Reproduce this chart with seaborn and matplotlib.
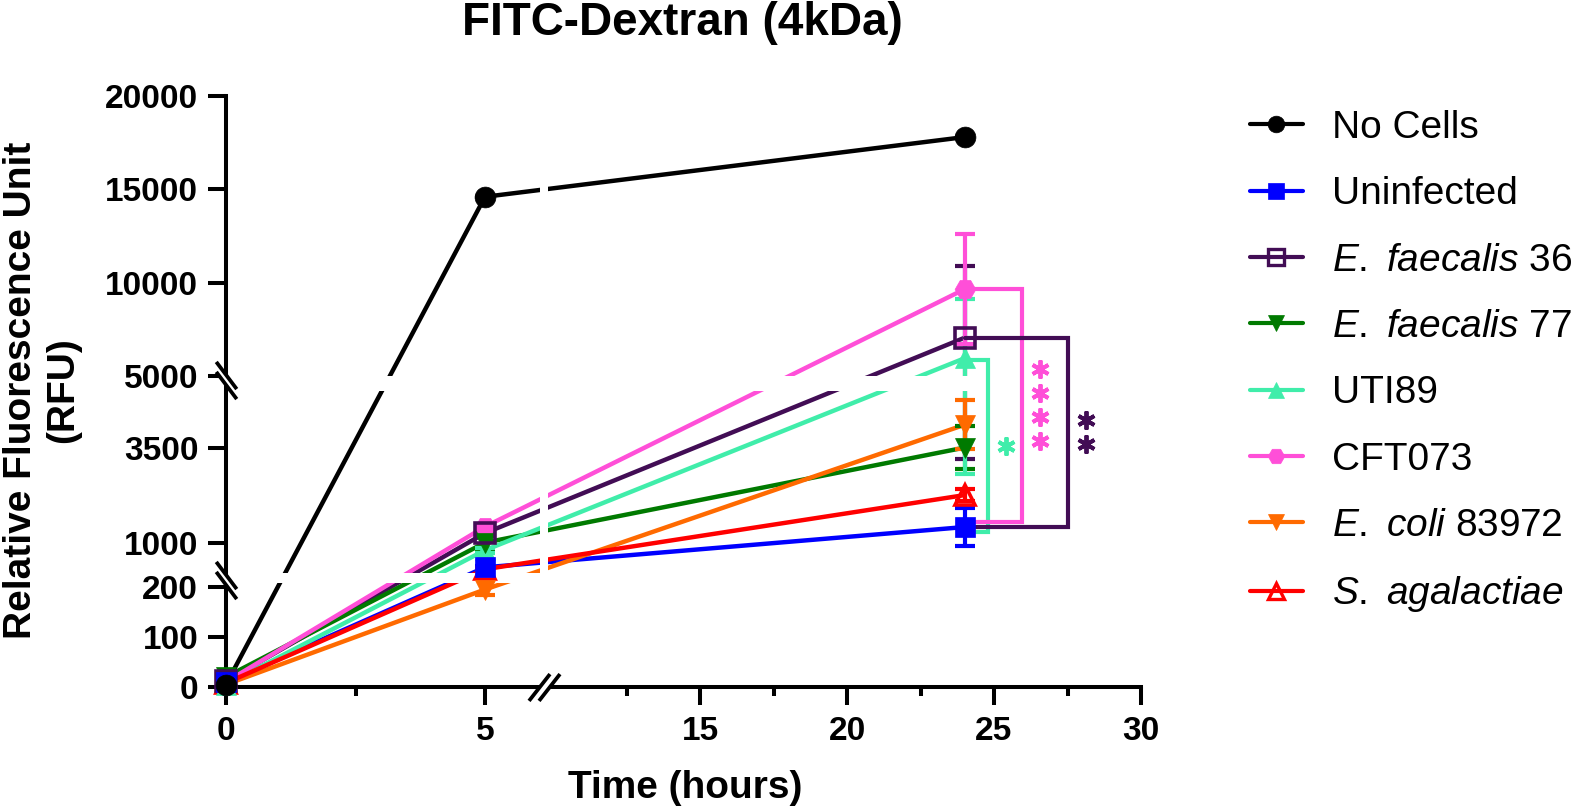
import numpy as np
import pandas as pd
import matplotlib
matplotlib.use("Agg")
import matplotlib.pyplot as plt
from matplotlib.lines import Line2D
from matplotlib.path import Path
from matplotlib import transforms
import seaborn as sns

# values (RFU, mean and error at 0, 5, 24 h)
hours = [0, 5, 24]
groups = ["No Cells", "Uninfected", "E. faecalis 36", "E. faecalis 77",
          "UTI89", "CFT073", "E. coli 83972", "S. agalactiae"]
legend_labels = ["No Cells", "Uninfected", r"$\it{E.\ faecalis}$ 36", r"$\it{E.\ faecalis}$ 77",
                 "UTI89", "CFT073", r"$\it{E.\ coli}$ 83972", r"$\it{S.\ agalactiae}$"]

no_cells = [5, 14600, 17800]
uninfected = [10, 350, 1410]
ef36 = [12, 1250, 7050]
ef77 = [20, 1000, 3500]
uti89 = [5, 800, 5950]
cft073 = [10, 1420, 9650]
ecoli83972 = [5, 195, 4100]
sagal = [8, 300, 2250]

no_cells_err = [0, 0, 0]
uninfected_err = [0, 40, 490]
ef36_err = [0, 80, 3850]
ef77_err = [0, 250, 570]
uti89_err = [0, 60, 3150]
cft073_err = [0, 60, 2950]
ecoli83972_err = [0, 10, 650]
sagal_err = [0, 30, 150]

means = [no_cells, uninfected, ef36, ef77, uti89, cft073, ecoli83972, sagal]
errs = [no_cells_err, uninfected_err, ef36_err, ef77_err, uti89_err, cft073_err,
        ecoli83972_err, sagal_err]

colors = ["#000000", "#0000FF", "#420D55", "#007A00", "#40EDAA", "#FF4FD8", "#FF6A00", "#FF0000"]
markers = ["o", "s", "s", "v", "^", "H", "v", "^"]
open_marker = [False, False, True, False, False, False, False, True]

# significance vs Uninfected at 24 h
sig_groups = ["UTI89", "CFT073", "E. faecalis 36"]
sig_text = ["*", "****", "**"]
sig_x = [24.8, 25.95, 27.5]
sig_top = [5860, 9660, 7040]
sig_bottom = [1290, 1550, 1410]

yticks = [0, 100, 200, 1000, 3500, 5000, 10000, 15000, 20000]
xticks = [0, 5, 15, 20, 25, 30]
xminor = [2.5, 12.5, 17.5, 22.5, 27.5]

# segmented (broken) axes as piecewise linear scales
y_knots = np.array([-1e5, 0, 200, 201, 4999, 5000, 20000, 1.2e5])
y_units = np.array([-5e4, 0, 100, 114, 296.4, 311, 591, 591 + 1e5 * 0.018667])
x_knots = np.array([-100, 0, 6, 10, 30, 130])
x_units = np.array([-5180, 0, 310.8, 327, 915, 915 + 2940])


def y_fwd(v):
    return np.interp(v, y_knots, y_units)


def y_inv(u):
    return np.interp(u, y_units, y_knots)


def x_fwd(v):
    return np.interp(v, x_knots, x_units)


def x_inv(u):
    return np.interp(u, x_units, x_knots)


sns.set_style("ticks", {"axes.edgecolor": "black", "text.color": "black",
                        "xtick.color": "black", "ytick.color": "black",
                        "axes.labelcolor": "black"})
plt.rcParams["font.family"] = ["Liberation Sans", "DejaVu Sans"]
plt.rcParams["mathtext.fontset"] = "custom"
plt.rcParams["mathtext.rm"] = "Liberation Sans"
plt.rcParams["mathtext.it"] = "Liberation Sans:italic"
plt.rcParams["mathtext.bf"] = "Liberation Sans:bold"

fig = plt.figure(figsize=(15.73, 8.11), dpi=100)
ax = fig.add_axes([226 / 1573, 1 - 687 / 811, 915 / 1573, 591 / 811])
ax.set_xscale("function", functions=(x_fwd, x_inv))
ax.set_yscale("function", functions=(y_fwd, y_inv))

df = pd.DataFrame({
    "hours": np.tile(hours, len(groups)),
    "rfu": np.concatenate(means),
    "group": np.repeat(groups, len(hours)),
})
palette = dict(zip(groups, colors))

sns.lineplot(data=df, x="hours", y="rfu", hue="group", hue_order=groups, palette=palette,
             errorbar=None, legend=False, lw=3.2, ax=ax, zorder=2)

for i, g in enumerate(groups):
    ax.errorbar(hours, means[i], yerr=errs[i], fmt="none", ecolor=colors[i], elinewidth=3,
                capsize=7.5, capthick=3, zorder=2.1, clip_on=False)

# white gaps where lines cross the axis breaks
ax.axhspan(200.29, 201, color="white", lw=0, zorder=2.3)
ax.axhspan(4999, 5000, color="white", lw=0, zorder=2.3)
ax.axvspan(6.8, 8.8, color="white", lw=0, zorder=2.3)

# significance brackets
for g, lab, x, top, bot in zip(sig_groups, sig_text, sig_x, sig_top, sig_bottom):
    c = palette[g]
    ax.plot([24, x, x, 24], [top, top, bot, bot], color=c, lw=3, zorder=2.6,
            solid_joinstyle="miter", clip_on=False)
    mid = y_inv((y_fwd(top) + y_fwd(bot)) / 2)
    n = len(lab)
    for k in range(n):
        off = transforms.offset_copy(ax.transData, fig=fig, x=18,
                                     y=((n - 1) / 2 - k) * 24, units="dots")
        ax.plot([x], [mid], ls="none", marker=(6, 2, 0), ms=13, mew=2.8, mec=c,
                transform=off, clip_on=False, zorder=4)

# markers on top, first series uppermost
for i, g in enumerate(groups):
    ax.plot(hours, means[i], ls="none", marker=markers[i], ms=15,
            mfc="none" if open_marker[i] else colors[i], mec=colors[i],
            mew=2.6 if open_marker[i] else 0.5, zorder=3.9 - 0.1 * i, clip_on=False)

ax.set_xlim(0, 30)
ax.set_ylim(0, 20000)
ax.set_xticks(xticks, labels=[str(t) for t in xticks], fontweight="bold")
ax.set_xticks(xminor, minor=True)
ax.set_yticks(yticks, labels=[str(t) for t in yticks], fontweight="bold")
ax.yaxis.set_minor_locator(matplotlib.ticker.NullLocator())
ax.tick_params(which="major", length=13, width=2.9, labelsize=24, color="black")
ax.tick_params(axis="x", which="major", pad=8)
ax.tick_params(axis="y", which="major", pad=7)
ax.tick_params(axis="x", which="minor", length=6.5, width=2.9)
ax.set_xlabel("")
ax.set_ylabel("")
sns.despine(ax=ax)
for side in ["left", "bottom"]:
    ax.spines[side].set_linewidth(2.9)


def break_marker(angle, sep_dir, half_len=17, sep=5):
    d = np.array([np.cos(np.radians(angle)), np.sin(np.radians(angle))])
    s = np.array(sep_dir, dtype=float) * sep
    p = [-half_len * d + s, half_len * d + s, -half_len * d - s, half_len * d - s]
    strokes = Path(p, [Path.MOVETO, Path.LINETO, Path.MOVETO, Path.LINETO])
    fill = Path([p[0], p[1], p[3], p[2], p[0]],
                [Path.MOVETO, Path.LINETO, Path.LINETO, Path.LINETO, Path.CLOSEPOLY])
    size = 2 * np.abs(np.array(p)).max() * 0.72
    return strokes, fill, size


ybrk = break_marker(-53, (0, 1))
xbrk = break_marker(52, (1, 0))
for (bx, by), (strokes, fill, size) in [((0, 200.5), ybrk), ((0, 4999.7), ybrk), ((7.8, 0), xbrk)]:
    ax.plot([bx], [by], ls="none", marker=fill, ms=size, mfc="white", mec="white", mew=1,
            zorder=5, clip_on=False)
    ax.plot([bx], [by], ls="none", marker=strokes, ms=size, mfc="none", mec="black", mew=2.7,
            zorder=6, clip_on=False)

fig.text(682 / 1573, 1 - 23 / 811, "FITC-Dextran (4kDa)", ha="center", va="center",
         fontsize=33, fontweight="bold")
fig.text(685 / 1573, 1 - 788 / 811, "Time (hours)", ha="center", va="center",
         fontsize=28, fontweight="bold")
fig.text(42 / 1573, 1 - 390 / 811, "Relative Fluorescence Unit\n(RFU)", ha="center", va="center",
         rotation=90, multialignment="center", linespacing=1.2, fontsize=28, fontweight="bold")

handles = [Line2D([], [], color=c, lw=3, marker=m, ms=12, mfc="none" if o else c, mec=c,
                  mew=2.4 if o else 0.5)
           for c, m, o in zip(colors, markers, open_marker)]
fig.legend(handles, legend_labels, loc="upper left", bbox_to_anchor=(1250 / 1573, 1 - 110 / 811),
           frameon=False, fontsize=28, handlelength=1.35, handletextpad=0.75, labelspacing=0.78,
           borderpad=0, borderaxespad=0)

fig.savefig("out.png", dpi=100)
